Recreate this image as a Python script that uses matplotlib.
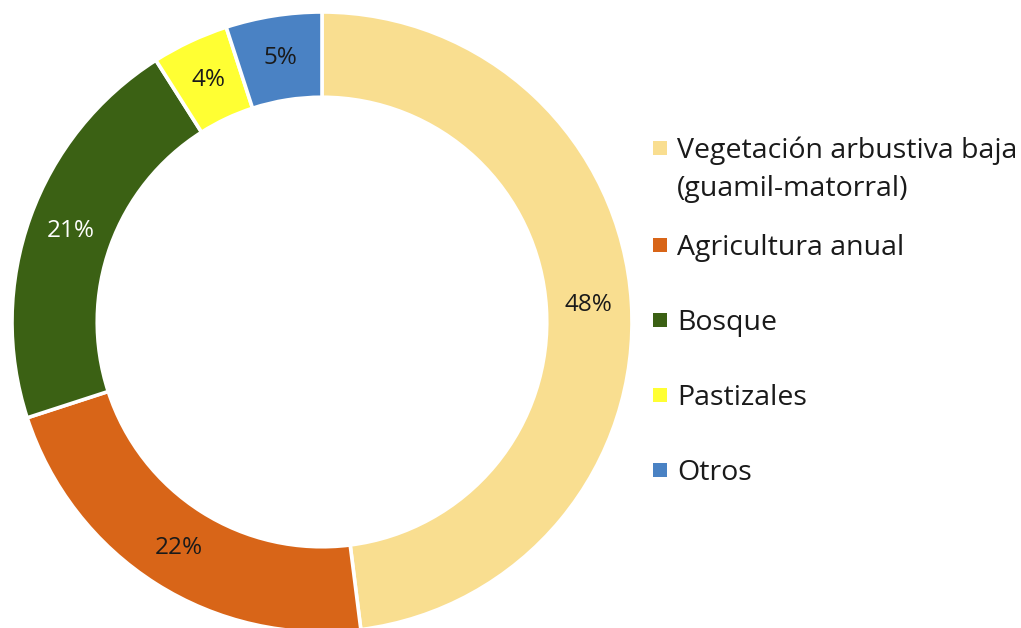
import matplotlib
matplotlib.use("Agg")
import matplotlib.pyplot as plt
from matplotlib.patches import Rectangle
import numpy as np

categories = ["Vegetación arbustiva baja\n(guamil-matorral)", "Agricultura anual",
              "Bosque", "Pastizales", "Otros"]
values = [48, 22, 21, 4, 5]
colors = ["#F9DE90", "#D86518", "#3B6114", "#FFFF33", "#4A82C4"]
label_colors = ["#1a1a1a", "#1a1a1a", "white", "#1a1a1a", "#1a1a1a"]

plt.rcParams['font.family'] = ['Open Sans', 'DejaVu Sans']

W, H = 1021, 628
fig = plt.figure(figsize=(W / 100, H / 100), dpi=100)
cx, cy, R = 322, 322, 310
ax = fig.add_axes([(cx - R) / W, (H - cy - R) / H, 2 * R / W, 2 * R / H])
ax.axis("off")

width = 0.275
ax.pie(values, colors=colors, startangle=90, counterclock=False, radius=1,
       wedgeprops=dict(width=width, edgecolor="white", linewidth=2.6))
ax.set_xlim(-1, 1)
ax.set_ylim(-1, 1)

rmid = 1 - width / 2
total = sum(values)
cum = 0
for v, lc in zip(values, label_colors):
    mid = 90 - 360 * (cum + v / 2) / total
    cum += v
    x, y = rmid * np.cos(np.radians(mid)), rmid * np.sin(np.radians(mid))
    ax.text(x, y, f"{v}%", ha="center", va="center", fontsize=17.5, color=lc)

# legend drawn manually (square aligned with first line)
fs = 20.5
line_gap = 38
entry_gap = 75
sq = 14
y = 148  # pixel centre of first line, from top
for i, (lab, c) in enumerate(zip(categories, colors)):
    lines = lab.split("\n")
    fig.patches.append(Rectangle((653 / W, 1 - (y + sq / 2) / H), sq / W, sq / H,
                                 transform=fig.transFigure, facecolor=c, edgecolor="none"))
    for j, ln in enumerate(lines):
        fig.text(677 / W, 1 - (y + j * line_gap + 9.8) / H, ln, fontsize=fs,
                 color="#1a1a1a", ha="left", va="baseline")
    y += entry_gap + (len(lines) - 1) * 22

fig.savefig("out.png", dpi=100)
